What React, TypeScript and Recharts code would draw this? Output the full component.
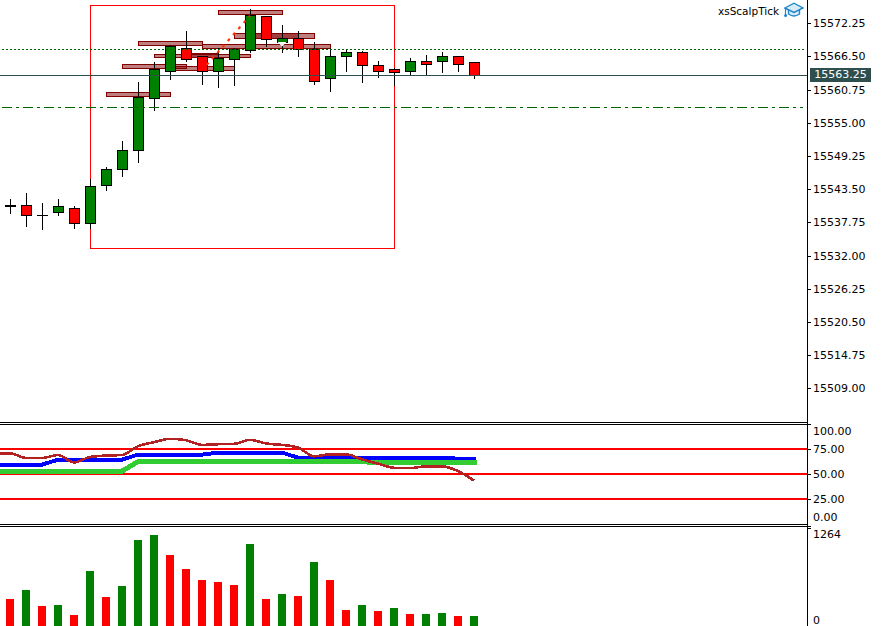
import { Bar, ComposedChart, Line, ReferenceArea, ReferenceDot, ReferenceLine, XAxis, YAxis } from "recharts";

const WIDTH = 886;
const AXIS_WIDTH = 79;
const X_DOMAIN = [-0.625, 49.8125];

// candles, oldest first
const bars = [0, 1, 2, 3, 4, 5, 6, 7, 8, 9, 10, 11, 12, 13, 14, 15, 16, 17, 18, 19, 20, 21, 22, 23, 24, 25, 26, 27, 28, 29];
const opens = [15540.75, 15540.71, 15538.97, 15539.49, 15540.19, 15537.59, 15544.17, 15546.95, 15550.24, 15559.25, 15563.93, 15568.0, 15566.53, 15563.93, 15566.01, 15567.57, 15573.46, 15568.96, 15569.65, 15567.74, 15562.72, 15566.53, 15567.22, 15564.97, 15564.28, 15563.93, 15565.66, 15565.66, 15566.53, 15565.49];
const closes = [15540.5, 15538.97, 15538.97, 15540.53, 15537.59, 15544.0, 15546.95, 15550.24, 15559.43, 15564.28, 15568.26, 15566.01, 15563.93, 15566.18, 15567.74, 15573.64, 15569.48, 15569.65, 15567.74, 15562.2, 15566.53, 15567.22, 15564.97, 15563.93, 15563.76, 15565.66, 15565.14, 15566.53, 15565.14, 15563.24];
const highs = [15541.8, 15542.84, 15541.11, 15541.8, 15540.59, 15545.27, 15547.29, 15551.85, 15562.08, 15565.49, 15568.49, 15570.92, 15566.6, 15567.92, 15567.92, 15574.73, 15573.52, 15571.96, 15570.86, 15568.96, 15567.92, 15567.74, 15567.4, 15565.72, 15564.45, 15566.18, 15566.7, 15567.22, 15566.53, 15565.49];
const lows = [15539.25, 15537.0, 15536.48, 15538.91, 15536.65, 15536.65, 15543.24, 15545.66, 15548.09, 15557.1, 15562.48, 15565.59, 15561.61, 15561.09, 15561.44, 15567.15, 15568.09, 15567.15, 15566.46, 15561.61, 15560.4, 15563.86, 15561.96, 15562.82, 15561.44, 15563.24, 15563.24, 15563.69, 15563.86, 15562.65];

const priceTicks = [15572.25, 15566.5, 15560.75, 15555, 15549.25, 15543.5, 15537.75, 15532, 15526.25, 15520.5, 15514.75, 15509];

const lastPrice = 15563.25;
const dottedLevel = 15567.7;
const dashDotLevel = 15557.65;

// supply and demand boxes: first bar, last bar, top price, bottom price
const zoneStart = [6, 7, 8, 9, 10, 12, 13, 14, 11, 15];
const zoneEnd = [10, 11, 12, 15, 14, 20, 17, 19, 13, 18];
const zoneTop = [15560.29, 15565.14, 15569.13, 15566.88, 15564.8, 15568.61, 15574.5, 15570.52, 15567.05, 15570.52];
const zoneBottom = [15559.53, 15564.38, 15568.44, 15566.29, 15564.1, 15567.85, 15573.74, 15569.65, 15566.36, 15569.65];

// oscillator pane, starts one bar left of the candles
const oscBars = [-1, 0, 1, 2, 3, 4, 5, 6, 7, 8, 9, 10, 11, 12, 13, 14, 15, 16, 17, 18, 19, 20, 21, 22, 23, 24, 25, 26, 27, 28, 29];
const slowLine = [52.9, 52.9, 52.9, 52.9, 52.9, 52.9, 52.9, 52.9, 52.9, 62.3, 62.3, 62.3, 62.3, 62.3, 62.3, 62.3, 62.3, 62.3, 62.3, 62.3, 62.3, 62.3, 62.3, 62.3, 61.3, 61.3, 61.3, 61.3, 61.3, 61.3, 61.3];
const midLine = [59.3, 59.3, 59.3, 59.3, 64.3, 64.3, 64.3, 64.3, 64.3, 69.4, 69.4, 69.4, 69.4, 69.4, 71.4, 71.4, 71.4, 71.4, 71.4, 66.3, 66.3, 66.3, 66.3, 66.3, 66.3, 66.3, 66.3, 66.3, 66.3, 65.3, 65.3];
const fastLine = [70.7, 70.7, 66.0, 66.0, 69.0, 61.6, 67.0, 68.4, 69.0, 77.8, 81.8, 85.2, 83.8, 79.1, 79.8, 80.1, 84.2, 80.5, 79.1, 76.4, 67.7, 69.7, 69.7, 64.6, 60.3, 56.2, 55.9, 57.6, 57.6, 52.9, 43.4];
const oscLevels = [75, 50, 25];
const oscTicks = [100, 75, 50, 25, 0];

const volumes = [349, 466, 259, 272, 142, 712, 375, 518, 1113, 1178, 919, 738, 595, 569, 531, 1061, 349, 414, 388, 828, 595, 207, 272, 194, 233, 155, 155, 168, 129, 129];
const volumeUp = [false, true, false, true, false, true, false, true, true, true, false, false, false, false, false, true, false, true, false, true, false, false, true, false, true, false, true, true, false, true];
const volumeTicks = [1264, 0];

const candleData = bars.map((bar, i) => ({
  bar,
  open: opens[i],
  close: closes[i],
  range: [lows[i], highs[i]],
}));
const oscData = oscBars.map((bar, i) => ({ bar, slow: slowLine[i], mid: midLine[i], fast: fastLine[i] }));
const volumeData = bars.map((bar, i) => ({ bar, volume: volumes[i], up: volumeUp[i] }));

const tickFont = { fontFamily: "DejaVu Sans", fontSize: 11, fill: "#000" };

function Candle(props: any) {
  const { x, y, width, height, payload } = props;
  const [low, high] = payload.range;
  const perUnit = height / (high - low);
  const yOf = (p: number) => y + (high - p) * perUnit;
  const cx = Math.round(x + width / 2);
  const top = Math.round(yOf(Math.max(payload.open, payload.close)));
  const bottom = Math.round(yOf(Math.min(payload.open, payload.close)));
  const fill = payload.close > payload.open ? "#008000" : "#ff0000";
  return (
    <g shapeRendering="crispEdges">
      <line x1={cx + 0.5} x2={cx + 0.5} y1={y} y2={y + height} stroke="#000" />
      {bottom === top ? (
        <line x1={cx - 5} x2={cx + 6} y1={top + 0.5} y2={top + 0.5} stroke="#000" />
      ) : (
        <rect x={cx - 5 + 0.5} y={top + 0.5} width={10} height={bottom - top} fill={fill} stroke="#000" />
      )}
    </g>
  );
}

function VolumeBar(props: any) {
  const { x, y, width, height, payload } = props;
  return <rect x={x} y={y} width={width} height={height} fill={payload.up ? "#008000" : "#ff0000"} shapeRendering="crispEdges" />;
}

function DownMarker(props: any) {
  const { cx, cy, size, fill } = props;
  return <polygon points={`${cx - size},${cy} ${cx + size},${cy} ${cx},${cy + size}`} fill={fill} />;
}

// MT4 pushes the first and last labels of a pane inside it
function AxisTick(props: any) {
  const { y, payload, shift } = props;
  const dy = shift?.[payload.value] ?? 0;
  const label = props.format(payload.value);
  return (
    <g>
      <line x1={807} x2={811} y1={y + 0.5} y2={y + 0.5} stroke="#000" shapeRendering="crispEdges" />
      <text x={813} y={y + dy + 4} {...tickFont}>
        {label}
      </text>
    </g>
  );
}

function Rule({ top, left = 0, width = 807 }: { top: number; left?: number; width?: number }) {
  return <div style={{ position: "absolute", left, top, width, height: 1, background: "#000" }} />;
}

function CapIcon() {
  return (
    <svg width={20} height={16} viewBox="0 0 20 16" style={{ position: "absolute", left: 784, top: 2 }}>
      <path d="M4.5 8 V12 Q10 16 15.5 12 V8" fill="#d7ebf9" stroke="#1c86c8" strokeWidth={1.4} />
      <polygon points="0.8,6 10,1.2 19,6 10,10.4" fill="#d7ebf9" stroke="#1c86c8" strokeWidth={1.4} />
      <line x1={1.5} y1={6} x2={1.5} y2={13} stroke="#1c86c8" strokeWidth={1.2} />
      <circle cx={1.6} cy={13.6} r={1.5} fill="#1c86c8" />
    </svg>
  );
}

export default function App() {
  return (
    <div style={{ position: "absolute", left: 0, top: 0, width: WIDTH, height: 626, background: "#fff", overflow: "hidden" }}>
      <div style={{ position: "absolute", left: 0, top: 0 }}>
        <ComposedChart width={WIDTH} height={422} data={candleData} margin={{ top: 0, right: 0, bottom: 0, left: 0 }}>
          <XAxis dataKey="bar" type="number" domain={X_DOMAIN} hide allowDataOverflow />
          <YAxis
            orientation="right"
            width={AXIS_WIDTH}
            domain={[15503.15, 15576.29]}
            ticks={priceTicks}
            interval={0}
            axisLine={false}
            tickLine={false}
            allowDataOverflow
            tick={<AxisTick format={(v: number) => v.toFixed(2)} />}
          />
          <ReferenceArea x1={5} x2={24} y1={15575.34} y2={15533.22} fill="none" stroke="#ff0000" strokeWidth={1} shapeRendering="crispEdges" />
          {zoneStart.map((start, i) => (
            <ReferenceArea
              key={i}
              x1={start}
              x2={zoneEnd[i]}
              y1={zoneTop[i]}
              y2={zoneBottom[i]}
              fill="#800000"
              fillOpacity={0.5}
              stroke="#800000"
              strokeWidth={1}
              shapeRendering="crispEdges"
            />
          ))}
          <ReferenceLine stroke="#006400" strokeDasharray="2 2" shapeRendering="crispEdges" segment={[{ x: -0.5, y: dottedLevel }, { x: 49.7, y: dottedLevel }]} />
          <ReferenceLine stroke="#006400" strokeDasharray="10 4 3 4" shapeRendering="crispEdges" segment={[{ x: -0.5, y: dashDotLevel }, { x: 49.55, y: dashDotLevel }]} />
          <ReferenceLine y={lastPrice} stroke="#2f4f4f" shapeRendering="crispEdges" />
          <ReferenceLine segment={[{ x: 12.29, y: 15565.02 }, { x: 15, y: 15573.57 }]} stroke="#ff3000" strokeWidth={2} strokeDasharray="3 5" />
          <ReferenceDot x={17} y={15569.01} r={0} shape={<DownMarker size={4.5} fill="#b03020" />} />
          <ReferenceDot x={28} y={15576.2} r={0} shape={<DownMarker size={3} fill="#2f4f4f" />} />
          <Bar dataKey="range" barSize={10} isAnimationActive={false} shape={<Candle />} />
        </ComposedChart>
      </div>
      <div style={{ position: "absolute", left: 0, top: 424 }}>
        <ComposedChart width={WIDTH} height={100} data={oscData} margin={{ top: 0, right: 0, bottom: 0, left: 0 }}>
          <XAxis dataKey="bar" type="number" domain={X_DOMAIN} hide allowDataOverflow />
          <YAxis
            orientation="right"
            width={AXIS_WIDTH}
            domain={[0, 100]}
            ticks={oscTicks}
            interval={0}
            axisLine={false}
            tickLine={false}
            tick={<AxisTick format={(v: number) => v.toFixed(2)} shift={{ 100: 7, 0: -7 }} />}
          />
          {oscLevels.map((level) => (
            <ReferenceLine key={level} y={level} stroke="#ff0000" strokeWidth={2} shapeRendering="crispEdges" />
          ))}
          <Line dataKey="mid" stroke="#0000ff" strokeWidth={4} strokeLinecap="square" shapeRendering="crispEdges" dot={false} isAnimationActive={false} />
          <Line dataKey="slow" stroke="#32cd32" strokeWidth={5} strokeLinecap="square" shapeRendering="crispEdges" dot={false} isAnimationActive={false} />
          <Line dataKey="fast" type="monotone" stroke="#b22222" strokeWidth={2.6} shapeRendering="crispEdges" dot={false} isAnimationActive={false} />
        </ComposedChart>
      </div>
      <div style={{ position: "absolute", left: 0, top: 528 }}>
        <ComposedChart width={WIDTH} height={98} data={volumeData} margin={{ top: 0, right: 0, bottom: 0, left: 0 }}>
          <XAxis dataKey="bar" type="number" domain={X_DOMAIN} hide allowDataOverflow />
          <YAxis
            orientation="right"
            width={AXIS_WIDTH}
            domain={[0, 1264]}
            ticks={volumeTicks}
            interval={0}
            axisLine={false}
            tickLine={false}
            tick={<AxisTick format={(v: number) => String(v)} shift={{ 1264: 6, 0: -6 }} />}
          />
          <Bar dataKey="volume" barSize={8} isAnimationActive={false} shape={<VolumeBar />} />
        </ComposedChart>
      </div>

      <Rule top={422} />
      <Rule top={424} width={811} />
      <Rule top={524} />
      <Rule top={526} width={811} />
      <div style={{ position: "absolute", left: 807, top: 0, width: 1, height: 626, background: "#000" }} />

      <div
        style={{
          position: "absolute",
          left: 810,
          top: 68,
          width: 61,
          height: 14,
          background: "#2f4f4f",
          color: "#fff",
          font: "11px DejaVu Sans",
          lineHeight: "14px",
          textAlign: "center",
        }}
      >
        {lastPrice.toFixed(2)}
      </div>
      <div style={{ position: "absolute", left: 718, top: 4, font: "10.5px DejaVu Sans", lineHeight: "14px", color: "#000" }}>xsScalpTick</div>
      <CapIcon />
    </div>
  );
}
